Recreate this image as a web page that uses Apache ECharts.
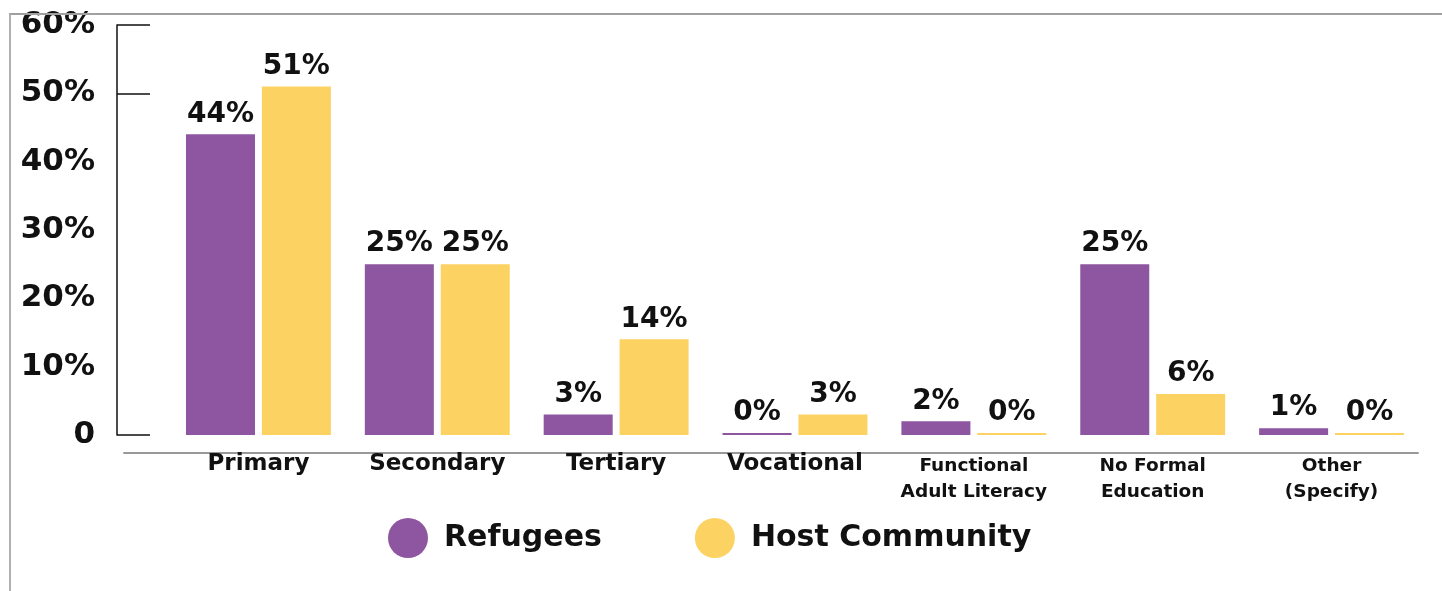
<!DOCTYPE html>
<html><head><meta charset="utf-8">
<script src="https://cdn.jsdelivr.net/npm/echarts@6/dist/echarts.min.js"></script>
<style>
html,body{margin:0;padding:0;background:#fff;}
#c{width:1442px;height:591px;position:relative;}
#frame{position:absolute;left:9px;top:13px;width:1433px;height:578px;border-left:2px solid #b0b0b0;border-top:2px solid #a0a0a0;pointer-events:none;}
</style></head>
<body>
<div id="c"></div><div id="frame"></div>
<script>
const categories = ['Primary','Secondary','Tertiary','Vocational','Functional\nAdult Literacy','No Formal\nEducation','Other\n(Specify)'];
const refugees = [44, 25, 3, 0, 2, 25, 1];
const hostCommunity = [51, 25, 14, 3, 0, 6, 0];
const yTicks = [0, 50, 60];

const FONT = 'DejaVu Sans';
const chart = echarts.init(document.getElementById('c'), null, {renderer:'canvas'});
const labelCfg = {show:true, position:'top', distance:6, formatter:'{c}%', fontFamily:FONT, fontWeight:'bold', fontSize:28, color:'#111'};
chart.setOption({
  animation:false,
  grid:[
    {left:169, right:21, top:25, bottom:156},
    {left:124, right:24, top:25, bottom:156}
  ],
  legend:{
    data:['Refugees','Host Community'],
    left:383, top:513, icon:'circle', itemWidth:40, itemHeight:40, itemGap:93,
    textStyle:{fontFamily:FONT, fontWeight:'bold', fontSize:30, color:'#111', padding:[0,0,0,11]}
  },
  xAxis:[
    {type:'category', data:categories, gridIndex:0,
     axisLine:{show:false}, axisTick:{show:false},
     axisLabel:{margin:18, fontFamily:FONT, fontWeight:'bold', fontSize:23, color:'#111', interval:0,
       formatter:function(v){ if(v.indexOf('\n')>=0){ return v.split('\n').map(function(s){return '{s|'+s+'}';}).join('\n'); } return v; },
       rich:{s:{fontFamily:FONT, fontWeight:'bold', fontSize:18.5, lineHeight:26, color:'#111'}}
     }},
    {type:'value', gridIndex:1, min:0, max:1, offset:18,
     axisLine:{show:true, onZero:false, lineStyle:{color:'#999', width:2}}, axisTick:{show:false}, axisLabel:{show:false}, splitLine:{show:false}}
  ],
  yAxis:[
    {type:'value', gridIndex:0, min:0, max:60, interval:10, offset:52,
     axisLine:{show:true, lineStyle:{color:'#111', width:1.5}},
     axisTick:{show:true, inside:true, length:33, lineStyle:{color:'#111', width:1.5}, customValues:yTicks},
     splitLine:{show:false},
     axisLabel:{margin:22, fontFamily:FONT, fontWeight:'bold', fontSize:31, color:'#111',
       formatter:function(v){return v===0?'0':v+'%';}}},
    {type:'value', gridIndex:1, show:false, min:0, max:1}
  ],
  series:[
    {name:'Refugees', type:'bar', data:refugees, barWidth:69, barGap:'10%', barMinHeight:2, itemStyle:{color:'#8e56a1'}, label:labelCfg},
    {name:'Host Community', type:'bar', data:hostCommunity, barWidth:69, barGap:'10%', barMinHeight:2, itemStyle:{color:'#fcd262'}, label:labelCfg}
  ]
});
</script>
</body></html>
